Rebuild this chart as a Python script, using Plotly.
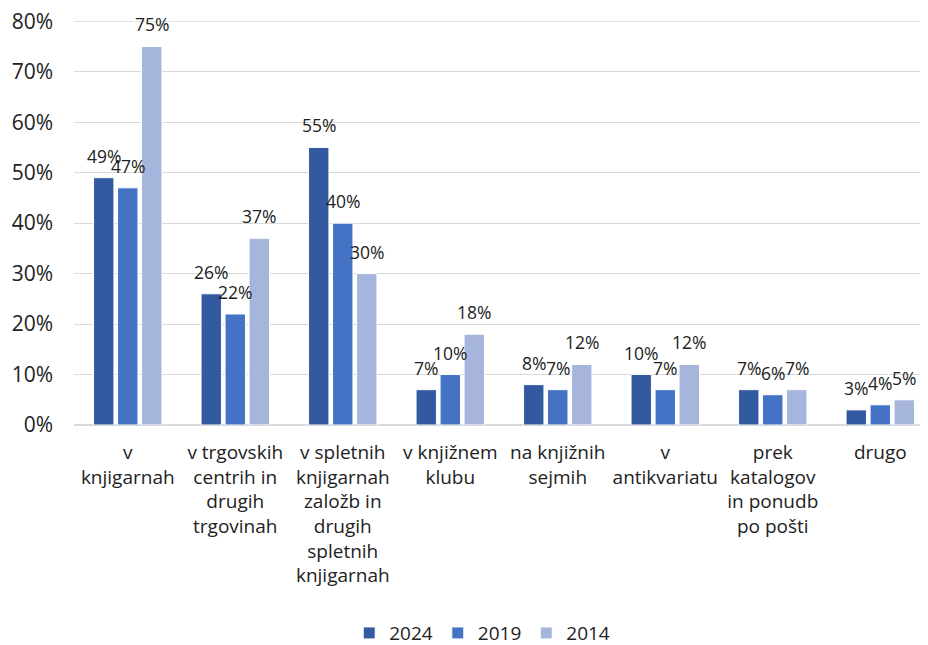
import plotly.graph_objects as go

categories = [
    "v<br>knjigarnah",
    "v trgovskih<br>centrih in<br>drugih<br>trgovinah",
    "v spletnih<br>knjigarnah<br>založb in<br>drugih<br>spletnih<br>knjigarnah",
    "v knjižnem<br>klubu",
    "na knjižnih<br>sejmih",
    "v<br>antikvariatu",
    "prek<br>katalogov<br>in ponudb<br>po pošti",
    "drugo",
]
series_names = ["2024", "2019", "2014"]
values_2024 = [0.49, 0.26, 0.55, 0.07, 0.08, 0.10, 0.07, 0.03]
values_2019 = [0.47, 0.22, 0.40, 0.10, 0.07, 0.07, 0.06, 0.04]
values_2014 = [0.75, 0.37, 0.30, 0.18, 0.12, 0.12, 0.07, 0.05]
tick_values = [0.0, 0.1, 0.2, 0.3, 0.4, 0.5, 0.6, 0.7, 0.8]
tick_labels = ["0%", "10%", "20%", "30%", "40%", "50%", "60%", "70%", "80%"]
colors = ["#335AA1", "#4472C4", "#A5B5DC"]

FONT = "Open Sans"
TXT = "#222222"
GRID = "#D9D9D9"
fig = go.Figure()
all_series = [values_2024, values_2019, values_2014]
for name, vals, col in zip(series_names, all_series, colors):
    fig.add_trace(go.Bar(
        x=categories, y=vals, name=name,
        marker=dict(color=col, line=dict(color="white", width=1)),
        cliponaxis=False,
    ))

# data labels placed above bars
shifts = [-24, 0, 24]
for vals, xs in zip(all_series, shifts):
    for c, v in zip(categories, vals):
        fig.add_annotation(x=c, y=v, text=f"{round(v*100)}%", showarrow=False,
                           xshift=xs, yshift=22, yanchor="middle", xanchor="center",
                           font=dict(family=FONT, size=17.5, color=TXT))

# top gridline (edge gridlines are culled by plotly)
fig.add_shape(type="line", xref="paper", yref="y", x0=0, x1=1,
              y0=tick_values[-1], y1=tick_values[-1],
              line=dict(color=GRID, width=1), layer="below")

fig.update_layout(
    width=920, height=637,
    margin=dict(l=66, r=0, t=13, b=220, autoexpand=False),
    plot_bgcolor="white", paper_bgcolor="white",
    barmode="group", bargap=0.33, bargroupgap=0.15,
    font=dict(family=FONT, size=18, color=TXT),
    showlegend=True,
    legend=dict(orientation="h", x=0.478, xanchor="center", y=-0.515, yanchor="middle",
                font=dict(size=19), traceorder="normal"),
)
fig.update_yaxes(range=[0, 0.8005], tickmode="array", tickvals=tick_values, ticktext=tick_labels,
                 gridcolor=GRID, gridwidth=1, zeroline=True, zerolinecolor=GRID,
                 tickfont=dict(size=21), ticks="", showline=False, automargin=False,
                 ticklabelstandoff=20, ticklabeloverflow="allow")
fig.update_xaxes(tickfont=dict(size=19), tickangle=0, showline=True, linecolor=GRID,
                 ticks="", automargin=False, range=[-0.5, 7.444], ticklabelstandoff=10,
                 ticklabeloverflow="allow")

fig.write_html("out.html")
